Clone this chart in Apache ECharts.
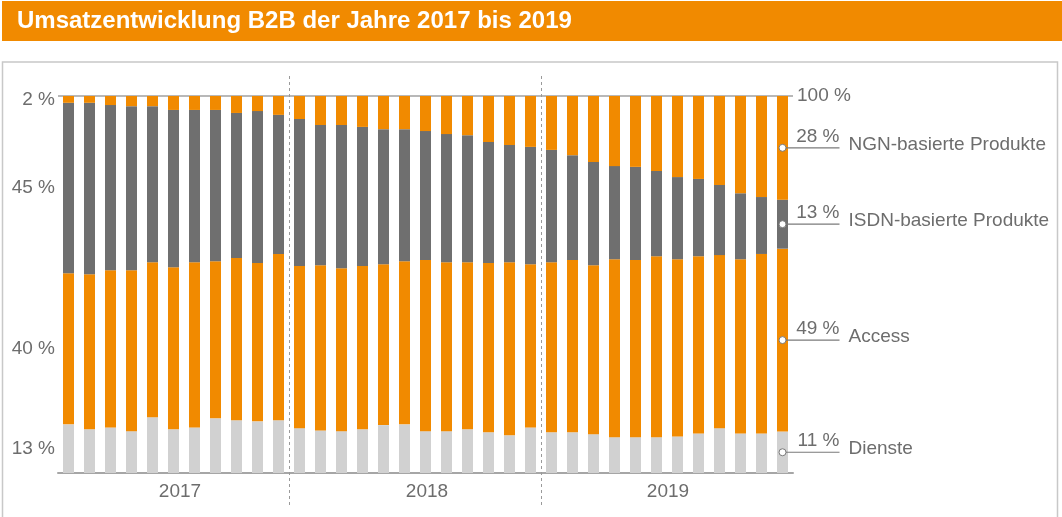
<!DOCTYPE html>
<html>
<head>
<meta charset="utf-8">
<script src="https://cdn.jsdelivr.net/npm/echarts@6/dist/echarts.min.js"></script>
<style>
  html, body { margin: 0; padding: 0; background: #fff; }
  #chart { width: 1062px; height: 517px; }
</style>
</head>
<body>
<div id="chart"></div>
<script>
// shares in percent, one value per month (Feb 2017 .. Dec 2019)
var years = ['2017', '2018', '2019'];
var firstMonth = [2, 1, 1];
var categories = [];
years.forEach(function (y, k) {
    for (var m = firstMonth[k]; m <= 12; m++) categories.push((m < 10 ? '0' + m : m) + '/' + y);
});

var dienste = [12.9, 11.6, 12.1, 11.1, 14.8, 11.6, 12.1, 14.5, 14.0, 13.7, 14.0,
    11.9, 11.3, 11.1, 11.6, 12.7, 12.9, 11.1, 11.1, 11.6, 10.8, 10.0, 12.1,
    10.8, 10.8, 10.3, 9.5, 9.5, 9.5, 9.7, 10.5, 11.9, 10.5, 10.5, 11.0];
var access = [40.1, 41.1, 41.7, 42.7, 41.1, 43.0, 43.8, 41.7, 43.0, 42.0, 44.1,
    43.0, 43.8, 43.2, 43.3, 42.7, 43.3, 45.4, 44.8, 44.3, 44.9, 45.9, 43.3,
    45.1, 45.7, 44.8, 47.2, 47.0, 48.0, 47.0, 47.0, 45.9, 46.2, 47.6, 48.5];
var isdn = [45.2, 45.5, 43.8, 43.5, 41.4, 41.7, 40.4, 40.1, 38.5, 40.3, 36.9,
    39.0, 37.2, 38.0, 36.9, 35.8, 35.0, 34.2, 34.0, 33.7, 32.1, 31.1, 31.1,
    29.8, 27.8, 27.4, 24.7, 24.7, 22.6, 21.8, 20.5, 18.6, 17.5, 15.1, 13.0];
var ngn = [1.8, 1.8, 2.4, 2.7, 2.7, 3.7, 3.7, 3.7, 4.5, 4.0, 5.0,
    6.1, 7.7, 7.7, 8.2, 8.8, 8.8, 9.3, 10.1, 10.4, 12.2, 13.0, 13.5,
    14.3, 15.7, 17.5, 18.6, 18.8, 19.9, 21.5, 22.0, 23.6, 25.8, 26.8, 27.5];

var seriesNames = ['Dienste', 'Access', 'ISDN-basierte Produkte', 'NGN-basierte Produkte'];
var seriesData = [dienste, access, isdn, ngn];
var seriesColors = ['#d1d1d1', '#f18a00', '#6f6f6f', '#f18a00'];

// year labels sit under these category indices, last index of each year gets a divider
var yearLabelIndex = { 5: '2017', 17: '2018', 29: '2019' };
var dividerIndex = [10, 22];

var FONT = '"Liberation Sans", Arial, sans-serif';
var TXT = '#6d6d6d';
var FS = 19;
var last = categories.length - 1;

var barSeries = seriesData.map(function (arr, s) {
    return {
        name: seriesNames[s],
        type: 'bar',
        stack: 'total',
        barWidth: 11,
        itemStyle: { color: seriesColors[s] },
        data: arr.map(function (v, i) {
            if (i !== 0) return v;
            return {
                value: v,
                label: {
                    show: true, position: 'left', distance: 8,
                    formatter: Math.round(v) + ' %',
                    color: TXT, fontSize: FS, fontFamily: FONT
                }
            };
        })
    };
});

// midpoints of the segments of the last bar, for the callouts on the right
var calloutData = [];
var cum = 0;
seriesData.forEach(function (arr, s) {
    calloutData.push([last, cum + arr[last] / 2, s, arr[last]]);
    cum += arr[last];
});

var calloutSeries = {
    type: 'custom',
    clip: false,
    z: 10,
    silent: true,
    data: calloutData,
    renderItem: function (params, api) {
        var p = api.coord([api.value(0), api.value(1)]);
        var s = api.value(2);
        var len = 57;
        return {
            type: 'group',
            children: [
                { type: 'line', shape: { x1: p[0], y1: p[1], x2: p[0] + len, y2: p[1] },
                  style: { stroke: '#7a7a7a', lineWidth: 1.2 } },
                { type: 'circle', shape: { cx: p[0], cy: p[1], r: 3.5 },
                  style: { fill: '#fff', stroke: '#7a7a7a', lineWidth: 1 } },
                { type: 'text', x: p[0] + len, y: p[1] - 11,
                  style: { text: Math.round(api.value(3)) + ' %', align: 'right', verticalAlign: 'middle',
                           fill: TXT, font: FS + 'px ' + FONT } },
                { type: 'text', x: p[0] + 66, y: p[1] - 3,
                  style: { text: seriesNames[s], align: 'left', verticalAlign: 'middle',
                           fill: TXT, font: FS + 'px ' + FONT } }
            ]
        };
    }
};

var dividerSeries = {
    type: 'custom',
    clip: false,
    silent: true,
    z: 5,
    data: dividerIndex.map(function (i) { return [i]; }),
    renderItem: function (params, api) {
        var p = api.coord([api.value(0), 0]);
        var top = api.coord([api.value(0), 100])[1];
        var band = api.size([1, 0])[0];
        var x = Math.round(p[0] + band / 2) + 0.5;
        return {
            type: 'line',
            shape: { x1: x, y1: top - 20, x2: x, y2: p[1] + 32 },
            style: { stroke: '#9a9a9a', lineWidth: 1, lineDash: [3, 3] }
        };
    }
};

var chart = echarts.init(document.getElementById('chart'));
chart.setOption({
    animation: false,
    title: {
        text: 'Umsatzentwicklung B2B der Jahre 2017 bis 2019',
        left: 17, top: 9, padding: 0,
        textStyle: { color: '#fff', fontSize: 24, fontWeight: 'bold', fontFamily: FONT }
    },
    graphic: [
        { type: 'rect', shape: { x: 2, y: 1, width: 1060, height: 40 }, style: { fill: '#f18a00' }, z: -1 },
        { type: 'rect', shape: { x: 2.5, y: 62, width: 1055, height: 470 },
          style: { fill: 'none', stroke: '#c8c8c8', lineWidth: 1.5 }, z: -1 }
    ],
    grid: { left: 58, right: 269, top: 96, bottom: 44 },
    xAxis: {
        type: 'category',
        data: categories,
        axisLine: { lineStyle: { color: '#a6a6a6', width: 2 } },
        axisTick: { show: false },
        axisLabel: {
            interval: 0,
            margin: 9,
            formatter: function (v, i) {
                var y = yearLabelIndex[i];
                if (!y) return '';
                if (y === '2017') return '{a|' + y + '}';
                if (y === '2019') return '{c|' + y + '}';
                return '{b|' + y + '}';
            },
            rich: {
                a: { color: TXT, fontSize: FS, fontFamily: FONT, padding: [0, 0, 0, 13] },
                b: { color: TXT, fontSize: FS, fontFamily: FONT, padding: [0, 0, 0, 3] },
                c: { color: TXT, fontSize: FS, fontFamily: FONT, padding: [0, 19, 0, 0] }
            }
        }
    },
    yAxis: [{
        type: 'value', min: 0, max: 100, interval: 100,
        axisLabel: { show: false },
        axisLine: { show: false },
        axisTick: { show: false },
        splitLine: { lineStyle: { color: '#a0a0a0', width: 1.5 } }
    }, {
        type: 'value', min: 0, max: 100, interval: 100, position: 'right',
        axisLine: { show: false },
        axisTick: { show: false },
        splitLine: { show: false },
        axisLabel: {
            margin: 4,
            formatter: function (v) { return v === 100 ? '100 %' : ''; },
            color: TXT, fontSize: FS, fontFamily: FONT
        }
    }],
    series: barSeries.concat([dividerSeries, calloutSeries])
});
</script>
</body>
</html>
